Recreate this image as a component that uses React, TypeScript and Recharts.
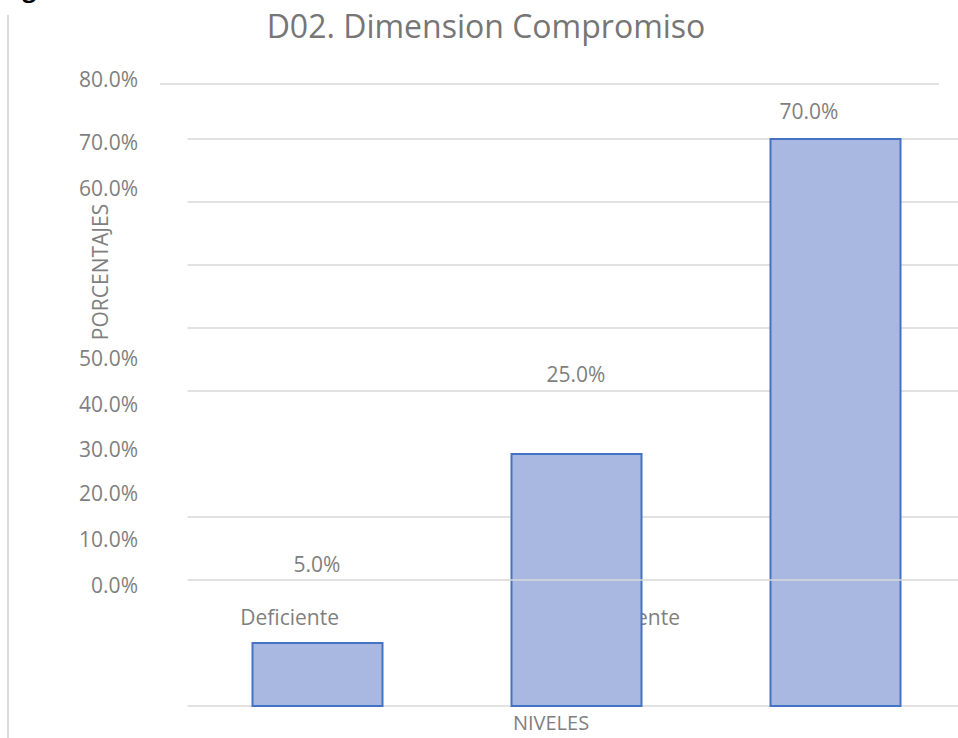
import React from "react";
import {
  ComposedChart,
  Bar,
  Scatter,
  XAxis,
  YAxis,
  CartesianGrid,
  ReferenceLine,
} from "recharts";

const niveles = ["Deficiente", "Suficiente", "Eficiente"];
const porcentajes = [5, 25, 70];
// bar heights as they sit on the drawn grid (0..100)
const alturaBarra = [10, 40, 90];
// where the value labels and level names sit on the same grid
const alturaEtiqueta = [22.5, 52.7, 94.3];
const alturaNivel = [14, 14, 14];

// y tick labels, drawn at their (misplaced) spots on the grid
const tickValores = [99.5, 89.4, 82.2, 55.2, 47.9, 40.8, 33.7, 26.5, 19.2];
const tickTextos = ["80.0%", "70.0%", "60.0%", "50.0%", "40.0%", "30.0%", "20.0%", "10.0%", "0.0%"];
const lineasGrid = [0, 30, 50, 60, 70, 80, 90];

const FONT = "'Open Sans', sans-serif";
const GRAY = "#7f7f7f";
const GRID = "#d9d9d9";

const etiquetaDx = [0, 0, -26];
const nivelDx = [22, 104, 50];

const data = niveles.map((nivel, i) => ({
  nivel,
  altura: alturaBarra[i],
  etiqueta: `${porcentajes[i].toFixed(1)}%`,
  posEtiqueta: alturaEtiqueta[i],
  posNivel: alturaNivel[i],
}));

function TickY(props: any) {
  const { x, y, payload } = props;
  const i = props.index ?? tickValores.indexOf(payload?.value);
  return (
    <text x={x} y={y} dy="0.36em" textAnchor="end" fontSize={21} fill={GRAY} fontFamily={FONT}>
      {tickTextos[i]}
    </text>
  );
}

function EtiquetaValor(p: any) {
  const i = niveles.indexOf(p.payload?.nivel);
  return (
    <text
      x={p.cx + (etiquetaDx[i] ?? 0)}
      y={p.cy}
      dy="0.36em"
      textAnchor="middle"
      fontSize={21}
      fill={GRAY}
      fontFamily={FONT}
    >
      {p.payload?.etiqueta}
    </text>
  );
}

function EtiquetaNivel(p: any) {
  const i = niveles.indexOf(p.payload?.nivel);
  return (
    <text
      x={p.cx + (nivelDx[i] ?? 0)}
      y={p.cy}
      dy="0.36em"
      textAnchor="end"
      fontSize={21}
      fill={GRAY}
      fontFamily={FONT}
    >
      {p.payload?.nivel}
    </text>
  );
}

export default function App() {
  return (
    <div
      style={{
        position: "absolute",
        left: 0,
        top: 0,
        width: 958,
        height: 738,
        overflow: "hidden",
        background: "#fff",
      }}
    >
      <div style={{ position: "absolute", left: 0, top: 0 }}>
        <ComposedChart
          width={970}
          height={738}
          data={data}
          margin={{ top: 76, right: 5.5, bottom: 0, left: 0 }}
        >
          <CartesianGrid
            vertical={false}
            horizontalValues={lineasGrid}
            stroke={GRID}
            strokeWidth={1.5}
          />
          <XAxis
            dataKey="nivel"
            type="category"
            height={32}
            axisLine={false}
            tickLine={false}
            tick={false}
          />
          <YAxis
            type="number"
            domain={[0, 100]}
            width={187.5}
            ticks={tickValores}
            interval={0}
            axisLine={false}
            tickLine={false}
            tickSize={0}
            tickMargin={49.5}
            tick={<TickY />}
          />
          <Scatter
            dataKey="posNivel"
            shape={<EtiquetaNivel />}
            isAnimationActive={false}
            zIndex={0}
          />
          <Bar
            dataKey="altura"
            barSize={130}
            fill="#a9b8e0"
            stroke="#4472c4"
            strokeWidth={2}
            isAnimationActive={false}
          />
          <ReferenceLine y={20} stroke={GRID} strokeWidth={1.5} zIndex={1000} />
          <ReferenceLine
            y={98.73}
            stroke={GRID}
            shape={(p: any) => (
              <line
                x1={p.x1 - 27.5}
                y1={p.y1}
                x2={p.x2 - 25.5}
                y2={p.y2}
                stroke={GRID}
                strokeWidth={1.5}
              />
            )}
          />
          <Scatter
            dataKey="posEtiqueta"
            shape={<EtiquetaValor />}
            isAnimationActive={false}
          />
        </ComposedChart>
      </div>
      <svg
        width={958}
        height={738}
        style={{ position: "absolute", left: 0, top: 0, pointerEvents: "none" }}
      >
        <text x={2} y={-3} fontSize={24} fontWeight="bold" fill="#000" fontFamily={FONT}>
          Figura
        </text>
        <line x1={8} y1={15} x2={8} y2={738} stroke={GRID} strokeWidth={2} />
        <text x={486} y={38} textAnchor="middle" fontSize={32} fill="#767676" fontFamily={FONT}>
          D02. Dimension Compromiso
        </text>
        <text
          x={100}
          y={272}
          dy="0.36em"
          textAnchor="middle"
          fontSize={21}
          fill={GRAY}
          fontFamily={FONT}
          transform="rotate(-90 100 272)"
        >
          PORCENTAJES
        </text>
        <text x={551} y={730} textAnchor="middle" fontSize={20} fill={GRAY} fontFamily={FONT}>
          NIVELES
        </text>
      </svg>
    </div>
  );
}
